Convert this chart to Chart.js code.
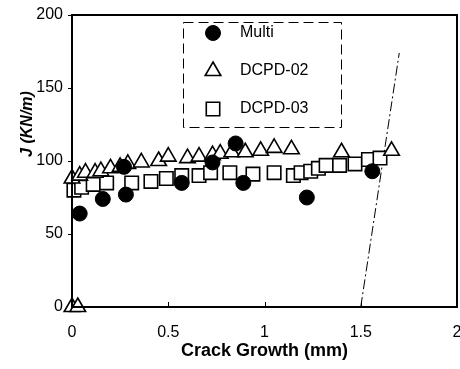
<!DOCTYPE html><html lang="en"><meta charset="utf-8">
<title>J vs Crack Growth</title>
<script src="https://cdn.jsdelivr.net/npm/chart.js@4.4.1"></script>
<style>
html,body{margin:0;background:#fff}
#wrap{width:460px;height:369px}
</style>
<body>
<div id="wrap"><canvas id="c" width="460" height="369"></canvas></div>
<script>
// data
const multiX  = [0.04, 0.16, 0.27, 0.28, 0.57, 0.73, 0.85, 0.89, 1.22, 1.56];
const multiY  = [64,   74,   96,   77,   85,   99,   112,  85,   75,   93];

const dcpd02X = [0.00, 0.03, 0.00, 0.04, 0.07, 0.12, 0.15, 0.20, 0.25, 0.29, 0.36, 0.45, 0.50,
                 0.60, 0.66, 0.73, 0.77, 0.83, 0.90, 0.98, 1.05, 1.14, 1.40, 1.66];
const dcpd02Y = [0,    0,    88,   90,   92,   92,   93,   95,   96,   98,   99,   100,  103,
                 102,  103,  104,  105,  106,  106,  107,  109,  108,  106,  107];

const dcpd03X = [0.01, 0.05, 0.11, 0.18, 0.31, 0.41, 0.49, 0.57, 0.66, 0.72, 0.82, 0.94,
                 1.05, 1.15, 1.19, 1.24, 1.28, 1.32, 1.39, 1.47, 1.54, 1.60];
const dcpd03Y = [80,   82,   84,   85,   85,   86,   88,   90,   90,   92,   92,   91,
                 92,   90,   92,   93,   95,   97,   97,   98,   101,  102];

const bluntX  = [1.5, 1.70];
const bluntY  = [0,   174];

const xTicks  = [0, 0.5, 1, 1.5, 2];
const yTitle  = 'J (KN/m)';

const pts = (xs, ys) => xs.map((x, i) => ({x, y: ys[i]}));

Chart.defaults.font.family = '"Liberation Sans", Arial, sans-serif';
Chart.defaults.color = '#000';

// box around plot + inward x ticks + legend inside the plot + y title (sits above centre)
const frame = {
  id: 'frame',
  afterDraw(chart) {
    const {ctx, chartArea: a, scales: {x}} = chart;
    ctx.save();
    ctx.strokeStyle = '#000';
    ctx.lineWidth = 2;
    ctx.strokeRect(a.left, a.top, a.right - a.left, a.bottom - a.top);
    ctx.lineWidth = 1;
    xTicks.slice(1, -1).forEach(v => {
      const px = Math.round(x.getPixelForValue(v)) + 0.5;
      ctx.beginPath(); ctx.moveTo(px, a.bottom); ctx.lineTo(px, a.bottom - 5); ctx.stroke();
    });

    // y title
    ctx.save();
    ctx.translate(28, 124);
    ctx.rotate(-Math.PI / 2);
    ctx.font = 'italic bold 16px "Liberation Sans", Arial, sans-serif';
    ctx.textAlign = 'center';
    ctx.textBaseline = 'middle';
    ctx.fillStyle = '#000';
    ctx.fillText(yTitle, 0, 0);
    ctx.restore();

    // legend
    const L = 183, T = 22, W = 158, H = 105;
    ctx.setLineDash([10, 5]);
    ctx.lineWidth = 1;
    ctx.strokeRect(L + 0.5, T + 0.5, W, H);
    ctx.setLineDash([]);
    ctx.font = '16px "Liberation Sans", Arial, sans-serif';
    ctx.textBaseline = 'middle';
    chart.data.datasets.filter(d => d.label).forEach((d, i) => {
      const cy = T + 11 + i * 38;
      ctx.fillStyle = d.backgroundColor;
      ctx.strokeStyle = '#000';
      ctx.lineWidth = d.borderWidth;
      Chart.helpers.drawPoint(ctx, {
        pointStyle: d.pointStyle, radius: d.pointRadius, rotation: 0,
        borderWidth: d.borderWidth
      }, L + 30, cy);
      ctx.fillStyle = '#000';
      ctx.fillText(d.label, L + 57, cy);
    });
    ctx.restore();
  }
};

new Chart(document.getElementById('c'), {
  type: 'scatter',
  data: {datasets: [
    {label: 'Multi', data: pts(multiX, multiY), pointStyle: 'circle', pointRadius: 7.5,
     backgroundColor: '#000', borderColor: '#000', borderWidth: 1, clip: false},
    {label: 'DCPD-02', data: pts(dcpd02X, dcpd02Y), pointStyle: 'triangle', pointRadius: 9,
     backgroundColor: '#fff', borderColor: '#000', borderWidth: 1.6, clip: false},
    {label: 'DCPD-03', data: pts(dcpd03X, dcpd03Y), pointStyle: 'rect', pointRadius: 9.5,
     backgroundColor: '#fff', borderColor: '#000', borderWidth: 1.6, clip: false},
    {type: 'line', data: pts(bluntX, bluntY), borderColor: '#000', borderWidth: 1,
     borderDash: [10, 3, 2, 3], pointRadius: 0, fill: false}
  ]},
  options: {
    responsive: false,
    animation: false,
    events: [],
    layout: {autoPadding: false, padding: {top: 15, right: 3, left: 0, bottom: 0}},
    plugins: {legend: {display: false}, tooltip: {enabled: false}},
    scales: {
      x: {
        type: 'linear', min: 0, max: 2,
        afterFit: s => { s.height = 62; s.paddingRight = 0; s.paddingLeft = 0; },
        afterBuildTicks: s => { s.ticks = xTicks.map(v => ({value: v})); },
        grid: {display: true, drawOnChartArea: false, drawTicks: true, tickLength: 15,
               tickColor: 'rgba(0,0,0,0)'},
        border: {display: false},
        ticks: {font: {size: 16}, padding: 1, maxRotation: 0, callback: v => String(v)},
        title: {display: true, text: 'Crack Growth (mm)', font: {size: 18, weight: 'bold'},
                padding: {top: 0, bottom: 7}}
      },
      y: {
        min: 0, max: 200,
        afterFit: s => { s.width = 72; },
        grid: {drawOnChartArea: false, drawTicks: true, tickLength: 4, color: '#000'},
        border: {display: false},
        ticks: {stepSize: 50, font: {size: 16}, padding: 5}
      }
    }
  },
  plugins: [frame]
});
</script>
</body></html>
